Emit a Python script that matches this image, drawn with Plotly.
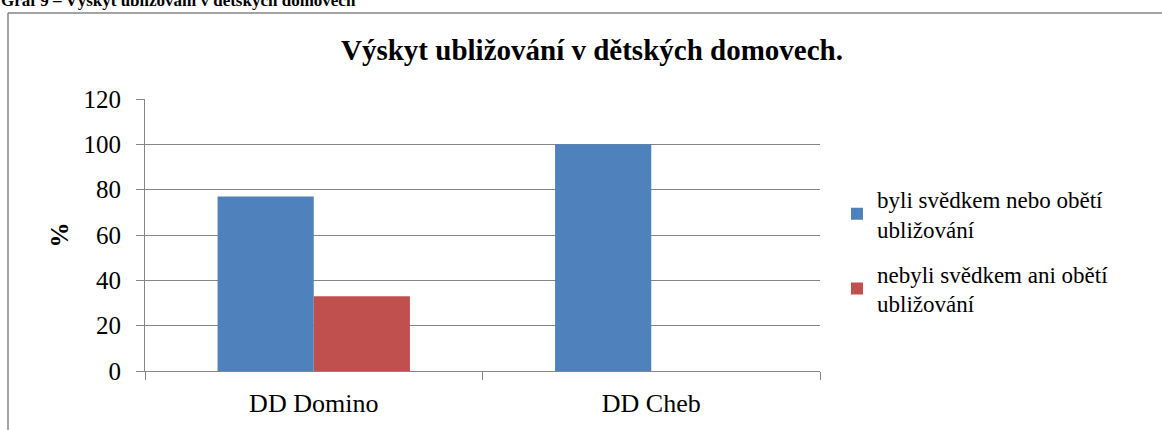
import plotly.graph_objects as go

categories = ["DD Domino", "DD Cheb"]
series_names = ["byli svědkem nebo obětí<br>ubližování", "nebyli svědkem ani obětí<br>ubližování"]
values_witness = [77, 100]
values_not_witness = [33, 0]
colors = ["#4F81BD", "#C0504D"]
y_ticks = [0, 20, 40, 60, 80, 100, 120]

W, H = 1162, 430
L, R, T, B = 145, 820, 99, 374

def px(x):
    return (x - L) / (R - L)

def py(y):
    return (B - y) / (B - T)

FONT = "Liberation Serif"
GRID = "#868686"

fig = go.Figure()
fig.add_trace(go.Bar(x=categories, y=values_witness, name=series_names[0], legendgroup="a",
                     marker=dict(color=colors[0], line=dict(width=0))))
fig.add_trace(go.Bar(x=categories, y=values_not_witness, name=series_names[1], legendgroup="b",
                     marker=dict(color=colors[1], line=dict(width=0))))

fig.update_layout(
    width=W, height=H,
    margin=dict(l=L, r=W - R, t=T, b=H - B, pad=0),
    paper_bgcolor="white", plot_bgcolor="white",
    barmode="group", bargap=0.43, bargroupgap=0,
    font=dict(family=FONT, size=22, color="black"),
    showlegend=True,
    legend=dict(x=px(837), y=py(253), xanchor="left", yanchor="middle",
                font=dict(family=FONT, size=23, color="black"),
                tracegroupgap=12, itemwidth=30, bgcolor="rgba(0,0,0,0)"),
    xaxis=dict(type="category", showline=True, linecolor=GRID, linewidth=1,
               ticks="outside", ticklen=8, tickcolor=GRID, tickson="boundaries",
               showgrid=False, ticklabelstandoff=9,
               tickfont=dict(family=FONT, size=26, color="black")),
    yaxis=dict(range=[0, 120], tickvals=y_ticks, showline=True, linecolor=GRID, linewidth=1,
               ticks="outside", ticklen=8, tickcolor=GRID,
               showgrid=True, gridcolor=GRID, gridwidth=1, zeroline=False,
               ticklabelstandoff=10,
               tickfont=dict(family=FONT, size=25, color="black"),
               title=dict(text="<b>%</b>", standoff=7,
                          font=dict(family=FONT, size=25, color="black"))),
    annotations=[
        dict(text="<b>Výskyt ubližování v dětských domovech.</b>", xref="paper", yref="paper",
             x=px(592), y=py(49), xanchor="center", yanchor="middle", showarrow=False,
             font=dict(family=FONT, size=29, color="black")),
        dict(text="<b>Graf 9 – Výskyt ubližování v dětských domovech</b>", xref="paper", yref="paper",
             x=px(-1), y=py(-1), xanchor="left", yanchor="middle", showarrow=False,
             font=dict(family=FONT, size=17, color="black")),
    ],
    shapes=[
        dict(type="line", xref="paper", yref="paper", x0=px(8), x1=px(8), y0=py(440), y1=py(12),
             line=dict(color=GRID, width=1.5)),
        dict(type="line", xref="paper", yref="paper", x0=px(8), x1=px(1170), y0=py(12), y1=py(12),
             line=dict(color=GRID, width=1.5)),
    ],
)

fig.write_html("out.html", config={"displayModeBar": False},
               post_script="document.body.style.margin='0';")
